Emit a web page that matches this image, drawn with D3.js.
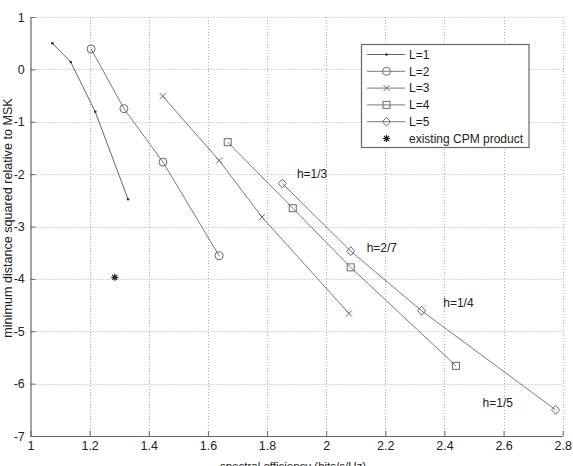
<html>
<head><meta charset="utf-8"></head>
<script src='https://d3js.org/d3.v7.min.js'></script>
<style>
body {margin: 0; background: white;}
text {font-family: "Liberation Sans", Arial, sans-serif; fill: #222;}
.grid line {stroke: #b0b0b0; stroke-dasharray: 1,2; stroke-width: 1;}
</style>
<body>
<svg width=573 height=466></svg>
<script>

// data
var seriesNames = ['L=1', 'L=2', 'L=3', 'L=4', 'L=5'];
var markers = ['dot', 'circle', 'cross', 'square', 'diamond'];
var xL1 = [1.074, 1.136, 1.219, 1.33];
var yL1 = [0.50, 0.14, -0.81, -2.48];
var xL2 = [1.205, 1.316, 1.448, 1.638];
var yL2 = [0.39, -0.75, -1.77, -3.56];
var xL3 = [1.447, 1.638, 1.783, 2.077];
var yL3 = [-0.51, -1.74, -2.82, -4.66];
var xL4 = [1.667, 1.887, 2.083, 2.439];
var yL4 = [-1.39, -2.65, -3.78, -5.66];
var xL5 = [1.852, 2.083, 2.323, 2.776];
var yL5 = [-2.18, -3.47, -4.61, -6.50];
var productX = [1.285];
var productY = [-3.97];
var productName = 'existing CPM product';

var hLabels = ['h=1/3', 'h=2/7', 'h=1/4', 'h=1/5'];
var hX = [1.901, 2.137, 2.396, 2.529];
var hY = [-2.07, -3.48, -4.53, -6.44];

var xTicks = [1, 1.2, 1.4, 1.6, 1.8, 2, 2.2, 2.4, 2.6, 2.8];
var yTicks = [-7, -6, -5, -4, -3, -2, -1, 0, 1];

var pLeft = 30.5, pRight = 562.7, pTop = 17, pBottom = 436;
var xs = d3.scaleLinear().domain([1, 2.8]).range([pLeft, pRight]);
var ys = d3.scaleLinear().domain([-7, 1]).range([pBottom, pTop]);

var svg = d3.select('svg');
var lineColor = '#6a6a6a';

// dotted grid
var grid = svg.append('g').attr('class', 'grid');
grid.selectAll('.gx').data(xTicks.slice(1)).enter().append('line')
  .attr('x1', d => Math.round(xs(d)) + 0.5).attr('x2', d => Math.round(xs(d)) + 0.5)
  .attr('y1', pTop).attr('y2', pBottom);
grid.selectAll('.gy').data(yTicks.slice(1)).enter().append('line')
  .attr('y1', d => Math.round(ys(d)) + 0.5).attr('y2', d => Math.round(ys(d)) + 0.5)
  .attr('x1', pLeft).attr('x2', pRight);

// axes, ticks inside like matlab
var xAxis = d3.axisBottom(xs).tickValues(xTicks).tickSizeInner(-5).tickSizeOuter(0).tickPadding(8)
  .tickFormat(d => String(d));
var gx = svg.append('g').attr('transform', 'translate(0,' + pBottom + ')').call(xAxis);
var yAxis = d3.axisLeft(ys).tickValues(yTicks).tickSizeInner(-5).tickSizeOuter(0).tickPadding(7)
  .tickFormat(d => String(d));
var gy = svg.append('g').attr('transform', 'translate(' + pLeft + ',0)').call(yAxis);
svg.selectAll('.domain').attr('stroke', '#666').attr('stroke-width', 1.2);
svg.selectAll('.tick line').attr('stroke', '#666');
svg.selectAll('.tick text').attr('font-size', 12.5).attr('fill', '#222')
  .attr('font-family', '"Liberation Sans", Arial, sans-serif');
gx.selectAll('.tick text').attr('dy', '0.5em');
gy.selectAll('.tick text').attr('dx', '0.1em');

svg.append('text')
  .attr('text-anchor', 'middle')
  .attr('x', 293).attr('y', 469.5)
  .attr('font-size', 11.5)
  .text('spectral efficiency (bits/s/Hz)');
svg.append('text')
  .attr('text-anchor', 'middle')
  .attr('transform', 'translate(11.5,' + 218 + ') rotate(-90)')
  .attr('font-size', 12.6)
  .text('minimum distance squared relative to MSK');

// marker drawing
function drawMarker(g, type, cx, cy) {
  if (type == 'dot') {
    g.append('circle').attr('cx', cx).attr('cy', cy).attr('r', 1.3).attr('fill', '#333');
  } else if (type == 'circle') {
    g.append('circle').attr('cx', cx).attr('cy', cy).attr('r', 4).attr('fill', 'none').attr('stroke', lineColor);
  } else if (type == 'cross') {
    g.append('path').attr('d', 'M' + (cx - 3) + ',' + (cy - 3) + 'L' + (cx + 3) + ',' + (cy + 3) +
      'M' + (cx - 3) + ',' + (cy + 3) + 'L' + (cx + 3) + ',' + (cy - 3))
      .attr('stroke', lineColor).attr('fill', 'none');
  } else if (type == 'square') {
    g.append('rect').attr('x', cx - 3.5).attr('y', cy - 3.5).attr('width', 7).attr('height', 7)
      .attr('fill', 'none').attr('stroke', lineColor);
  } else if (type == 'diamond') {
    g.append('path').attr('d', 'M' + cx + ',' + (cy - 4.5) + 'L' + (cx + 4) + ',' + cy + 'L' + cx + ',' + (cy + 4.5) +
      'L' + (cx - 4) + ',' + cy + 'Z').attr('fill', 'none').attr('stroke', lineColor);
  } else if (type == 'star') {
    var p = '';
    [0, 45, 90, 135].forEach(function(a) {
      var r = 3.5, t = a * Math.PI / 180;
      p += 'M' + (cx - r * Math.cos(t)) + ',' + (cy - r * Math.sin(t)) + 'L' + (cx + r * Math.cos(t)) + ',' + (cy + r * Math.sin(t));
    });
    g.append('path').attr('d', p).attr('stroke', '#222').attr('stroke-width', 1.2).attr('fill', 'none');
  }
}

var allX = [xL1, xL2, xL3, xL4, xL5];
var allY = [yL1, yL2, yL3, yL4, yL5];
var line = d3.line().x(d => xs(d[0])).y(d => ys(d[1]));

allX.forEach(function(xv, i) {
  var pts = xv.map(function(x, j) { return [x, allY[i][j]]; });
  var g = svg.append('g');
  g.append('path').datum(pts).attr('d', line)
    .attr('fill', 'none').attr('stroke', i == 0 ? '#555' : lineColor).attr('stroke-width', 0.9);
  pts.forEach(function(p) { drawMarker(g, markers[i], xs(p[0]), ys(p[1])); });
});
productX.forEach(function(x, j) { drawMarker(svg, 'star', xs(x), ys(productY[j])); });

// h annotations
svg.selectAll('.hl').data(hLabels).enter().append('text')
  .attr('x', (d, i) => xs(hX[i])).attr('y', (d, i) => ys(hY[i]))
  .attr('font-size', 12)
  .text(d => d);

// legend
var lg = svg.append('g');
lg.append('rect').attr('x', 361.5).attr('y', 44.5).attr('width', 167.5).attr('height', 103)
  .attr('fill', 'white').attr('stroke', '#666').attr('stroke-width', 1.2);
var legNames = seriesNames.concat([productName]);
var legMarkers = markers.concat(['star']);
legNames.forEach(function(n, i) {
  var yy = 54.5 + i * 16.8;
  if (i < 5) {
    lg.append('line').attr('x1', 367).attr('x2', 405).attr('y1', yy).attr('y2', yy)
      .attr('stroke', i == 0 ? '#555' : lineColor).attr('stroke-width', 0.9);
  }
  drawMarker(lg, legMarkers[i], 386.5, yy);
  lg.append('text').attr('x', 409).attr('y', yy).attr('dy', '0.36em')
    .attr('font-size', 12).text(n);
});

</script>
</body>
</html>
